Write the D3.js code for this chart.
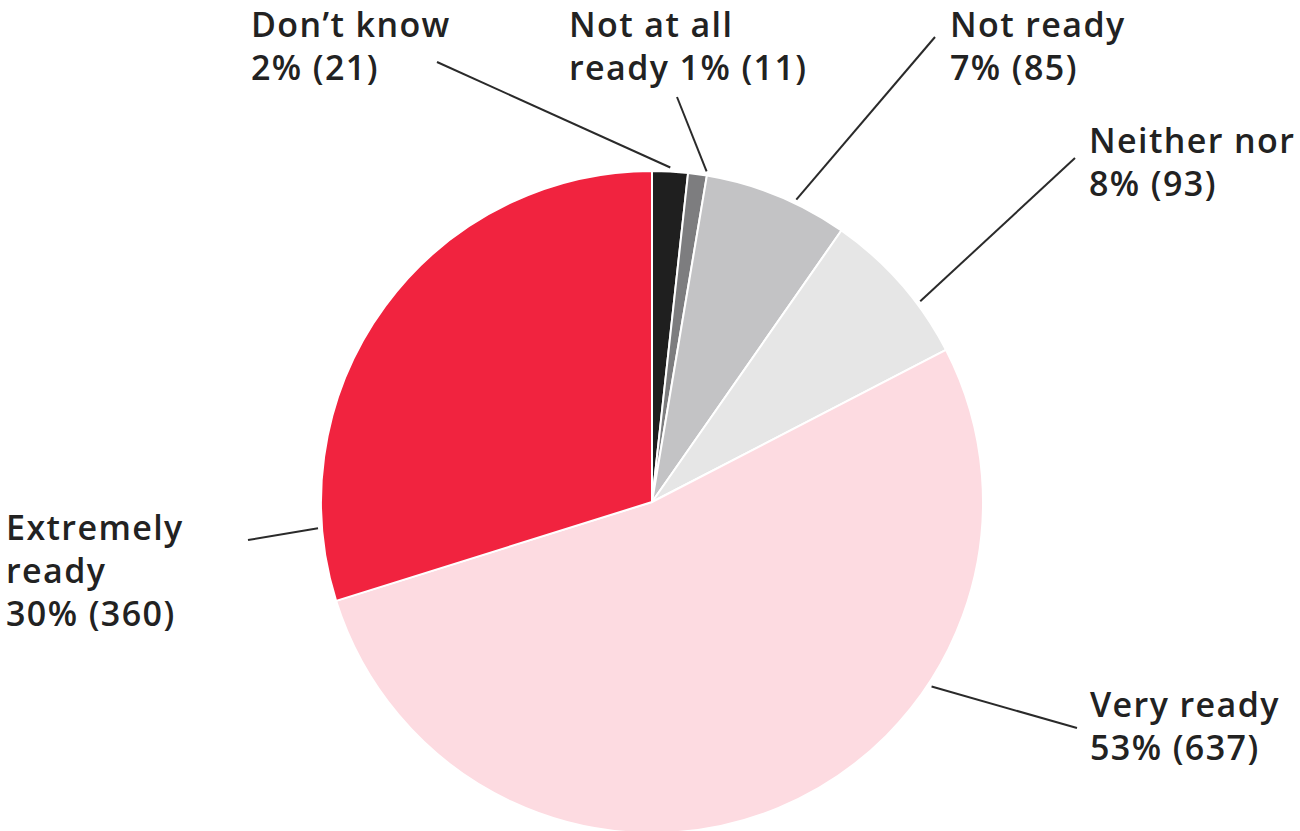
<!DOCTYPE html>
<html lang="en">
<head>
<meta charset="utf-8">
<title>Readiness pie</title>
<script src="https://cdnjs.cloudflare.com/ajax/libs/d3/7.8.5/d3.min.js"></script>
<style>
  body { margin: 0; background: #fff; }
  .lbl { font-family: "Open Sans", Lato, sans-serif; font-weight: 600; font-size: 34px; letter-spacing: 1.4px; fill: #222; }
  .leader { stroke: #2a2a2a; stroke-width: 2; fill: none; }
</style>
</head>
<body>
<svg id="chart" width="1300" height="831"></svg>
<script>
// answers, clockwise from 12 o'clock
const categories = ["Don\u2019t know", "Not at all ready", "Not ready", "Neither nor", "Very ready", "Extremely ready"];
const counts = [21, 11, 85, 93, 637, 360];
const percents = [2, 1, 7, 8, 53, 30];
const colors = ["#1f1f1f", "#7d7d7f", "#c3c3c5", "#e6e6e6", "#fddbe1", "#f1233f"];

// label text lines (how the original breaks them)
const labelLines = [
  ["Don\u2019t know", "2% (21)"],
  ["Not at all", "ready 1% (11)"],
  ["Not ready", "7% (85)"],
  ["Neither nor", "8% (93)"],
  ["Very ready", "53% (637)"],
  ["Extremely", "ready", "30% (360)"]
];

// layout only: where each label sits and where its leader line ends
const labelPos = [[251, 37], [569, 37], [950, 37], [1089, 153], [1090, 717], [6, 540]];
const leaderEnd = [[437, 62], [677, 97], [935, 37], [1075, 158], [1077, 728], [248, 540]];
const leaderFrac = [0.5, 0.95, 0.63, 0.66, 0.32, 0.12]; // where along the slice the leader touches

const cx = 652, cy = 502, radius = 331, lineH = 43;

const svg = d3.select("#chart");
const g = svg.append("g").attr("transform", `translate(${cx},${cy})`);

const pie = d3.pie().sort(null).value(d => d)(counts);
const arc = d3.arc().innerRadius(0).outerRadius(radius);

g.selectAll("path.slice")
  .data(pie)
  .enter().append("path")
  .attr("class", "slice")
  .attr("d", arc)
  .attr("fill", (d, i) => colors[i])
  .attr("stroke", "#fff")
  .attr("stroke-width", 2)
  .attr("stroke-linejoin", "round");

// leader lines
svg.selectAll("line.leader")
  .data(pie)
  .enter().append("line")
  .attr("class", "leader")
  .attr("x1", (d, i) => {
    const a = d.startAngle + (d.endAngle - d.startAngle) * leaderFrac[i];
    return cx + (radius + 4) * Math.sin(a);
  })
  .attr("y1", (d, i) => {
    const a = d.startAngle + (d.endAngle - d.startAngle) * leaderFrac[i];
    return cy - (radius + 4) * Math.cos(a);
  })
  .attr("x2", (d, i) => leaderEnd[i][0])
  .attr("y2", (d, i) => leaderEnd[i][1]);

// labels
const labels = svg.selectAll("text.lbl")
  .data(categories)
  .enter().append("text")
  .attr("class", "lbl")
  .attr("x", (d, i) => labelPos[i][0])
  .attr("y", (d, i) => labelPos[i][1]);

labels.each(function (d, i) {
  d3.select(this).selectAll("tspan")
    .data(labelLines[i])
    .enter().append("tspan")
    .attr("x", labelPos[i][0])
    .attr("dy", (t, j) => j === 0 ? 0 : lineH)
    .text(t => t);
});
</script>
</body>
</html>
